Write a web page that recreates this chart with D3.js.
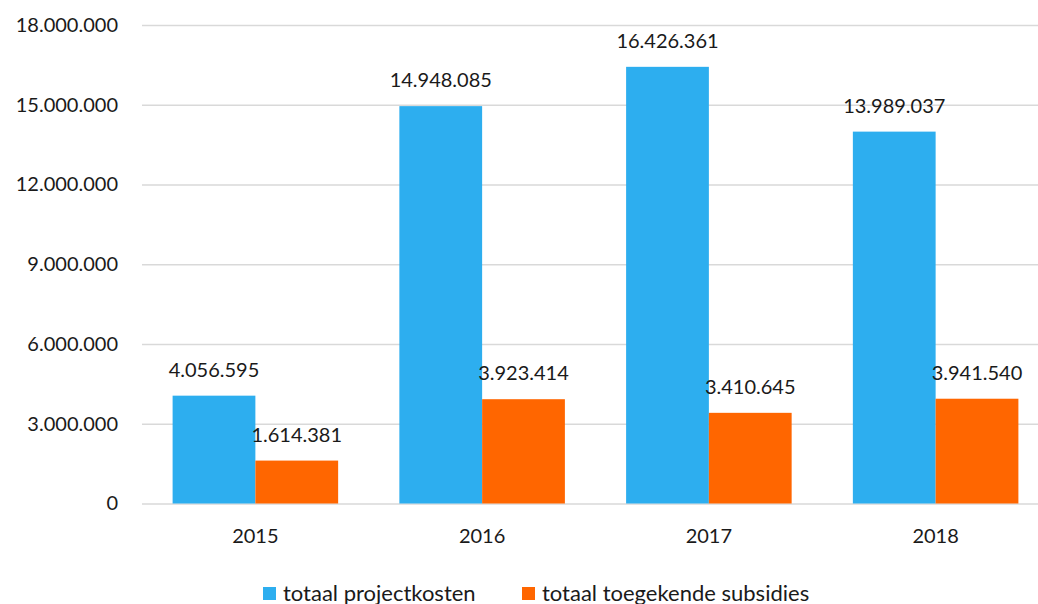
<!DOCTYPE html>
<html>
<head>
<meta charset="utf-8">
<script src="https://cdn.jsdelivr.net/npm/d3@7"></script>
<style>
  body { margin: 0; background: #fff; }
  text { font-family: Lato, "Open Sans", sans-serif; fill: #1a1a1a; }
</style>
</head>
<body>
<div id="container"></div>
<script>
/* DATA */
const years = ["2015", "2016", "2017", "2018"];
const projectkosten = [4056595, 14948085, 16426361, 13989037];
const subsidies = [1614381, 3923414, 3410645, 3941540];
const seriesNames = ["totaal projectkosten", "totaal toegekende subsidies"];
const yTicks = [0, 3000000, 6000000, 9000000, 12000000, 15000000, 18000000];

const width = 1038, height = 604;
const margin = {top: 25, bottom: 100, left: 142, right: -11};
const colors = ["#2DAEEF", "#FF6600"];

const fmt = d3.formatLocale({decimal: ",", thousands: ".", grouping: [3], currency: ["€", ""]}).format(",d");

const svg = d3.select("#container")
  .append("svg")
  .attr("width", width)
  .attr("height", height);

// SCALES
const xScale = d3.scaleBand()
  .domain(years)
  .range([margin.left, width - margin.right])
  .paddingInner(0.27)
  .paddingOuter(0.135);

const xInner = d3.scaleBand()
  .domain([0, 1])
  .range([0, xScale.bandwidth()]);

const yScale = d3.scaleLinear()
  .domain([0, 18000000])
  .range([height - margin.bottom - 0.5, margin.top]);

// GRIDLINES + Y AXIS
const yAxis = d3.axisLeft(yScale)
  .tickValues(yTicks)
  .tickFormat(d => fmt(d))
  .tickSize(-(width - margin.left))
  .tickPadding(24);

svg.append("g")
  .attr("transform", `translate(${margin.left},0)`)
  .call(yAxis)
  .call(g => g.select(".domain").remove())
  .call(g => g.selectAll("line").attr("stroke", "#d9d9d9").attr("stroke-width", 1.5))
  .call(g => g.selectAll("text").style("font-size", "20px").style("font-family", "Lato, sans-serif").attr("fill", "#1a1a1a"));

// X AXIS
const xAxis = d3.axisBottom(xScale).tickSize(0).tickPadding(25);
svg.append("g")
  .attr("transform", `translate(0, ${height - margin.bottom})`)
  .call(xAxis)
  .call(g => g.select(".domain").remove())
  .call(g => g.selectAll("text").style("font-size", "20px").style("font-family", "Lato, sans-serif").attr("fill", "#1a1a1a"));

// BARS
const rows = years.map((y, i) => ({year: y, values: [projectkosten[i], subsidies[i]]}));

const groups = svg.selectAll("g.year")
  .data(rows)
  .join("g")
  .attr("class", "year")
  .attr("transform", d => `translate(${xScale(d.year)},0)`);

groups.selectAll("rect")
  .data(d => d.values.map((v, k) => ({k, v})))
  .join("rect")
  .attr("x", d => xInner(d.k))
  .attr("width", xInner.bandwidth())
  .attr("y", d => yScale(d.v))
  .attr("height", d => yScale(0) - yScale(d.v))
  .attr("fill", d => colors[d.k]);

groups.selectAll("text.val")
  .data(d => d.values.map((v, k) => ({k, v})))
  .join("text")
  .attr("class", "val")
  .attr("x", d => xInner(d.k) + xInner.bandwidth() / 2)
  .attr("y", d => yScale(d.v) - 19)
  .attr("text-anchor", "middle")
  .style("font-size", "20px")
  .text(d => fmt(d.v));

// LEGEND
const legendX = [263, 522];
const legend = svg.selectAll("g.legend")
  .data(seriesNames)
  .join("g")
  .attr("class", "legend")
  .attr("transform", (d, i) => `translate(${legendX[i]}, 587)`);

legend.append("rect")
  .attr("width", 13)
  .attr("height", 13)
  .attr("fill", (d, i) => colors[i]);

legend.append("text")
  .attr("x", 20)
  .attr("y", 13.5)
  .style("font-size", "22px")
  .text(d => d);
</script>
</body>
</html>
